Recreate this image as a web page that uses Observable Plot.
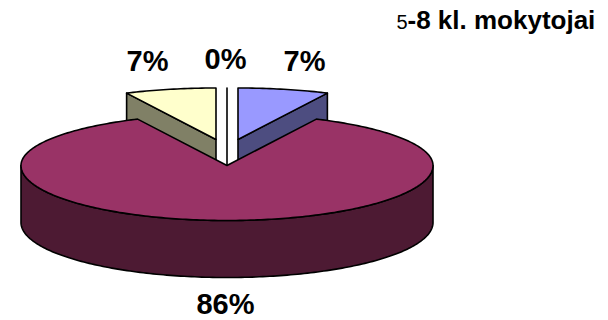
<!DOCTYPE html>
<html>
<head>
<meta charset="utf-8">
<script src="https://cdn.jsdelivr.net/npm/d3@7"></script>
<script src="https://cdn.jsdelivr.net/npm/@observablehq/plot@0.6"></script>
<style>html,body{margin:0;padding:0;background:#fff}svg{display:block}</style>
</head>
<body>
<div id="chart"></div>
<script>
const categories = ["a", "b", "c", "d"];
const counts = [1, 12, 1, 0];
const topColors = ["#9999ff", "#993366", "#ffffcc", "#ffffff"];
const wallColors = ["#4d4d80", "#4d1a33", "#808066", "#808080"];
const titleNumber = "5";
const titleRest = "-8 kl. mokytojai";

// pie layout
const cx = 226.5, cy = 165, rx = 206, ryBack = 51.5, ryFront = 55, depth = 57;
const explode = [[11, -26], [0, 0], [-11, -26], [0, -26]];
const labelAt = [[304, 61], [225, 304], [147, 61], [225, 59]];

const total = d3.sum(counts);
const percent = d3.format(".0%");
const rad = d => d * Math.PI / 180;
const rim = (t, o = [0, 0], dz = 0) => ({
  x: cx + o[0] + rx * Math.sin(t),
  y: cy + o[1] + dz - (Math.cos(t) > 0 ? ryBack : ryFront) * Math.cos(t)
});
let acc = 0;
const slices = counts.map((c, i) => {
  const a0 = acc / total * 2 * Math.PI;
  acc += c;
  const a1 = acc / total * 2 * Math.PI;
  return {i, a0, a1, o: explode[i], apex: {x: cx + explode[i][0], y: cy + explode[i][1]}};
});
const arc = (s, a0, a1, dz = 0) => {
  const n = Math.max(2, Math.ceil(Math.abs(a1 - a0) / rad(1)));
  return d3.range(n + 1).map(k => rim(a0 + (a1 - a0) * k / n, s.o, dz));
};
const face = s => [s.apex, ...arc(s, s.a0, s.a1), s.apex];
const cutWall = (s, a) => {
  const p = rim(a, s.o);
  return [s.apex, p, {x: p.x, y: p.y + depth}, {x: s.apex.x, y: s.apex.y + depth}, s.apex];
};
const frontWall = s => {
  const top = arc(s, rad(90), rad(270));
  const bot = arc(s, rad(270), rad(90), depth);
  return [...top, ...bot, top[0]];
};
const poly = (pts, fill) => Plot.line(pts, {x: "x", y: "y", fill, stroke: "#000", strokeWidth: 1.6, curve: "linear"});

const [blue, main, yellow, zero] = slices;
const marks = [
  poly(cutWall(blue, blue.a1), wallColors[0]),
  poly(face(blue), topColors[0]),
  poly(cutWall(yellow, yellow.a0), wallColors[2]),
  poly(face(yellow), topColors[2]),
  poly([rim(0, zero.o), {x: zero.apex.x, y: zero.apex.y + depth}], "none"),
  poly(frontWall(main), wallColors[1]),
  poly(face(main), topColors[1]),
  Plot.text(counts.map((c, i) => ({t: percent(c / total), x: labelAt[i][0], y: labelAt[i][1]})), {
    x: "x", y: "y", text: "t", fontFamily: "Liberation Sans", fontWeight: "bold", fontSize: 29, fill: "#000"
  }),
  Plot.text([titleNumber], {x: [407], y: [28], text: d => d, textAnchor: "end", lineAnchor: "bottom",
    fontFamily: "Liberation Sans", fontSize: 20, fill: "#000"}),
  Plot.text([titleRest], {x: [407], y: [28], text: d => d, textAnchor: "start", lineAnchor: "bottom",
    fontFamily: "Liberation Sans", fontWeight: "bold", fontSize: 26, fill: "#000"})
];

const chart = Plot.plot({
  width: 608, height: 320, margin: 0,
  x: {domain: [0, 608], range: [0, 608], axis: null},
  y: {domain: [0, 320], range: [0, 320], axis: null},
  style: {background: "#fff"},
  marks
});
document.getElementById("chart").append(chart);
</script>
</body>
</html>
